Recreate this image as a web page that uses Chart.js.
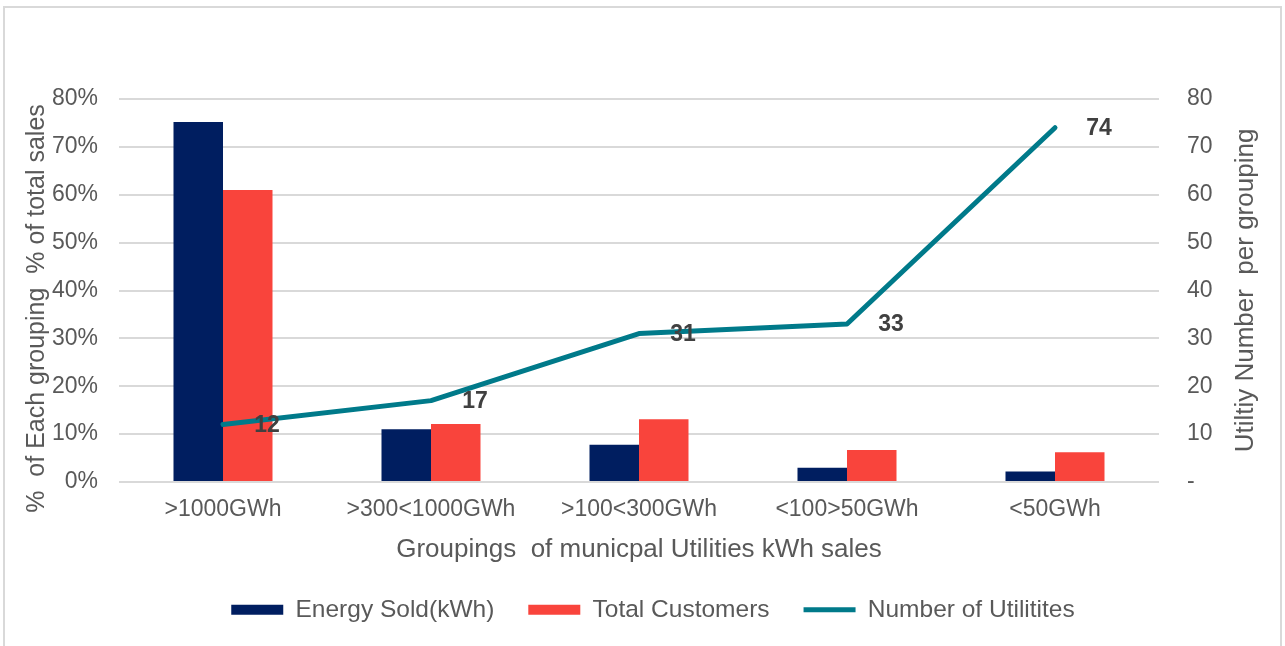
<!DOCTYPE html>
<html>
<head>
<meta charset="utf-8">
<script src="https://cdn.jsdelivr.net/npm/chart.js@4.4.1/dist/chart.umd.min.js"></script>
<style>
  html, body { margin: 0; padding: 0; background: #ffffff; }
  #frame { position: absolute; left: 3px; top: 6px; width: 1279px; height: 700px;
           border: 2px solid #D9D9D9; box-sizing: border-box; }
  #wrap { position: absolute; left: 0; top: 0; width: 1285px; height: 646px; }
</style>
</head>
<body>
<div id="frame"></div>
<div id="wrap"><canvas id="chart" width="1285" height="646"></canvas></div>
<script>
// Sales groupings of municipal utilities
const groupings = ['>1000GWh', '>300<1000GWh', '>100<300GWh', '<100>50GWh', '<50GWh'];
// Share of total (percent) per grouping
const energySold = [75.2, 11.0, 7.8, 3.0, 2.2];
const totalCustomers = [61.0, 12.1, 13.1, 6.7, 6.2];
// Count of utilities per grouping
const utilityCounts = [12, 17, 31, 33, 74];

// Axis tick labels
const leftTickLabels = ['0%', '10%', '20%', '30%', '40%', '50%', '60%', '70%', '80%'];
const rightTickLabels = ['-', '10', '20', '30', '40', '50', '60', '70', '80'];

const NAVY = '#001E60';
const RED = '#F9443C';
const TEAL = '#007A8A';
const GREY_TEXT = '#595959';
const GRID = '#D9D9D9';
const FONT = "'Liberation Sans', Arial, sans-serif";

// Value labels beside each point of the utilities line, plus both vertical axis titles
const lineLabels = {
  id: 'lineLabels',
  afterDatasetsDraw(chart) {
    const ctx = chart.ctx;
    const meta = chart.getDatasetMeta(2);
    ctx.save();
    ctx.font = 'bold 23px ' + FONT;
    ctx.fillStyle = '#404040';
    ctx.textAlign = 'center';
    ctx.textBaseline = 'middle';
    meta.data.forEach((pt, i) => {
      ctx.fillText(String(utilityCounts[i]), pt.x + 44, pt.y + 1);
    });
    ctx.restore();
  },
  afterDraw(chart) {
    const ctx = chart.ctx;
    const area = chart.chartArea;
    const y = chart.scales.y;
    const y1 = chart.scales.y1;
    const mid = (area.top + area.bottom) / 2;
    ctx.save();
    ctx.font = '25px ' + FONT;
    ctx.fillStyle = GREY_TEXT;
    ctx.textAlign = 'center';
    ctx.textBaseline = 'middle';
    // left title, sitting a little below the plot's middle
    ctx.save();
    ctx.translate(y.left + 16, mid + 18);
    ctx.rotate(-Math.PI / 2);
    ctx.fillText('%  of Each grouping  % of total sales', 0, 0);
    ctx.restore();
    // right title, reading upwards like the left one
    ctx.save();
    ctx.translate(y1.right - 39, mid);
    ctx.rotate(-Math.PI / 2);
    ctx.font = '26px ' + FONT;
    ctx.fillText('Utiltiy Number  per grouping', 0, 0);
    ctx.restore();
    ctx.restore();
  }
};

Chart.defaults.font.family = FONT;
Chart.defaults.color = GREY_TEXT;

new Chart(document.getElementById('chart'), {
  type: 'bar',
  data: {
    labels: groupings,
    datasets: [
      {
        label: 'Energy Sold(kWh)',
        data: energySold,
        backgroundColor: NAVY,
        borderWidth: 0,
        yAxisID: 'y',
        order: 2,
        pointStyle: 'rect'
      },
      {
        label: 'Total Customers',
        data: totalCustomers,
        backgroundColor: RED,
        borderWidth: 0,
        yAxisID: 'y',
        order: 2,
        pointStyle: 'rect'
      },
      {
        type: 'line',
        label: 'Number of Utilitites',
        data: utilityCounts,
        borderColor: TEAL,
        backgroundColor: TEAL,
        borderWidth: 5,
        borderCapStyle: 'round',
        borderJoinStyle: 'round',
        tension: 0,
        pointRadius: 0,
        pointHoverRadius: 0,
        pointStyle: 'line',
        yAxisID: 'y1',
        order: 0
      }
    ]
  },
  options: {
    responsive: false,
    animation: false,
    devicePixelRatio: 1,
    layout: { padding: { left: 21, right: 0, top: 99, bottom: 14 } },
    datasets: {
      bar: { categoryPercentage: 0.476, barPercentage: 1.0 }
    },
    plugins: {
      tooltip: { enabled: false },
      legend: {
        position: 'bottom',
        labels: {
          usePointStyle: true,
          pointStyleWidth: 52,
          boxHeight: 10,
          padding: 34,
          color: GREY_TEXT,
          font: { size: 24.5, family: FONT },
          sort: (a, b) => a.datasetIndex - b.datasetIndex
        }
      }
    },
    scales: {
      x: {
        grid: { display: false, drawTicks: false },
        border: { display: false },
        ticks: { color: GREY_TEXT, font: { size: 23 }, padding: 14 },
        title: {
          display: true,
          text: 'Groupings  of municpal Utilities kWh sales',
          color: GREY_TEXT,
          font: { size: 26 },
          padding: { top: 0, bottom: -2 }
        },
        afterFit(scale) { scale.height = 81.5; }
      },
      y: {
        position: 'left',
        min: 0,
        max: 80,
        grid: { color: GRID, lineWidth: 2, drawTicks: false },
        border: { display: false },
        ticks: {
          stepSize: 10,
          padding: 21,
          color: GREY_TEXT,
          font: { size: 23 },
          callback: (v, i) => leftTickLabels[i]
        },
        afterFit(scale) { scale.width = 98; }
      },
      y1: {
        position: 'right',
        min: 0,
        max: 80,
        grid: { drawOnChartArea: false, drawTicks: false },
        border: { display: false },
        ticks: {
          stepSize: 10,
          padding: 28,
          color: GREY_TEXT,
          font: { size: 23 },
          callback: (v, i) => rightTickLabels[i]
        },
        afterFit(scale) { scale.width = 126; }
      }
    }
  },
  plugins: [lineLabels]
});
</script>
</body>
</html>
